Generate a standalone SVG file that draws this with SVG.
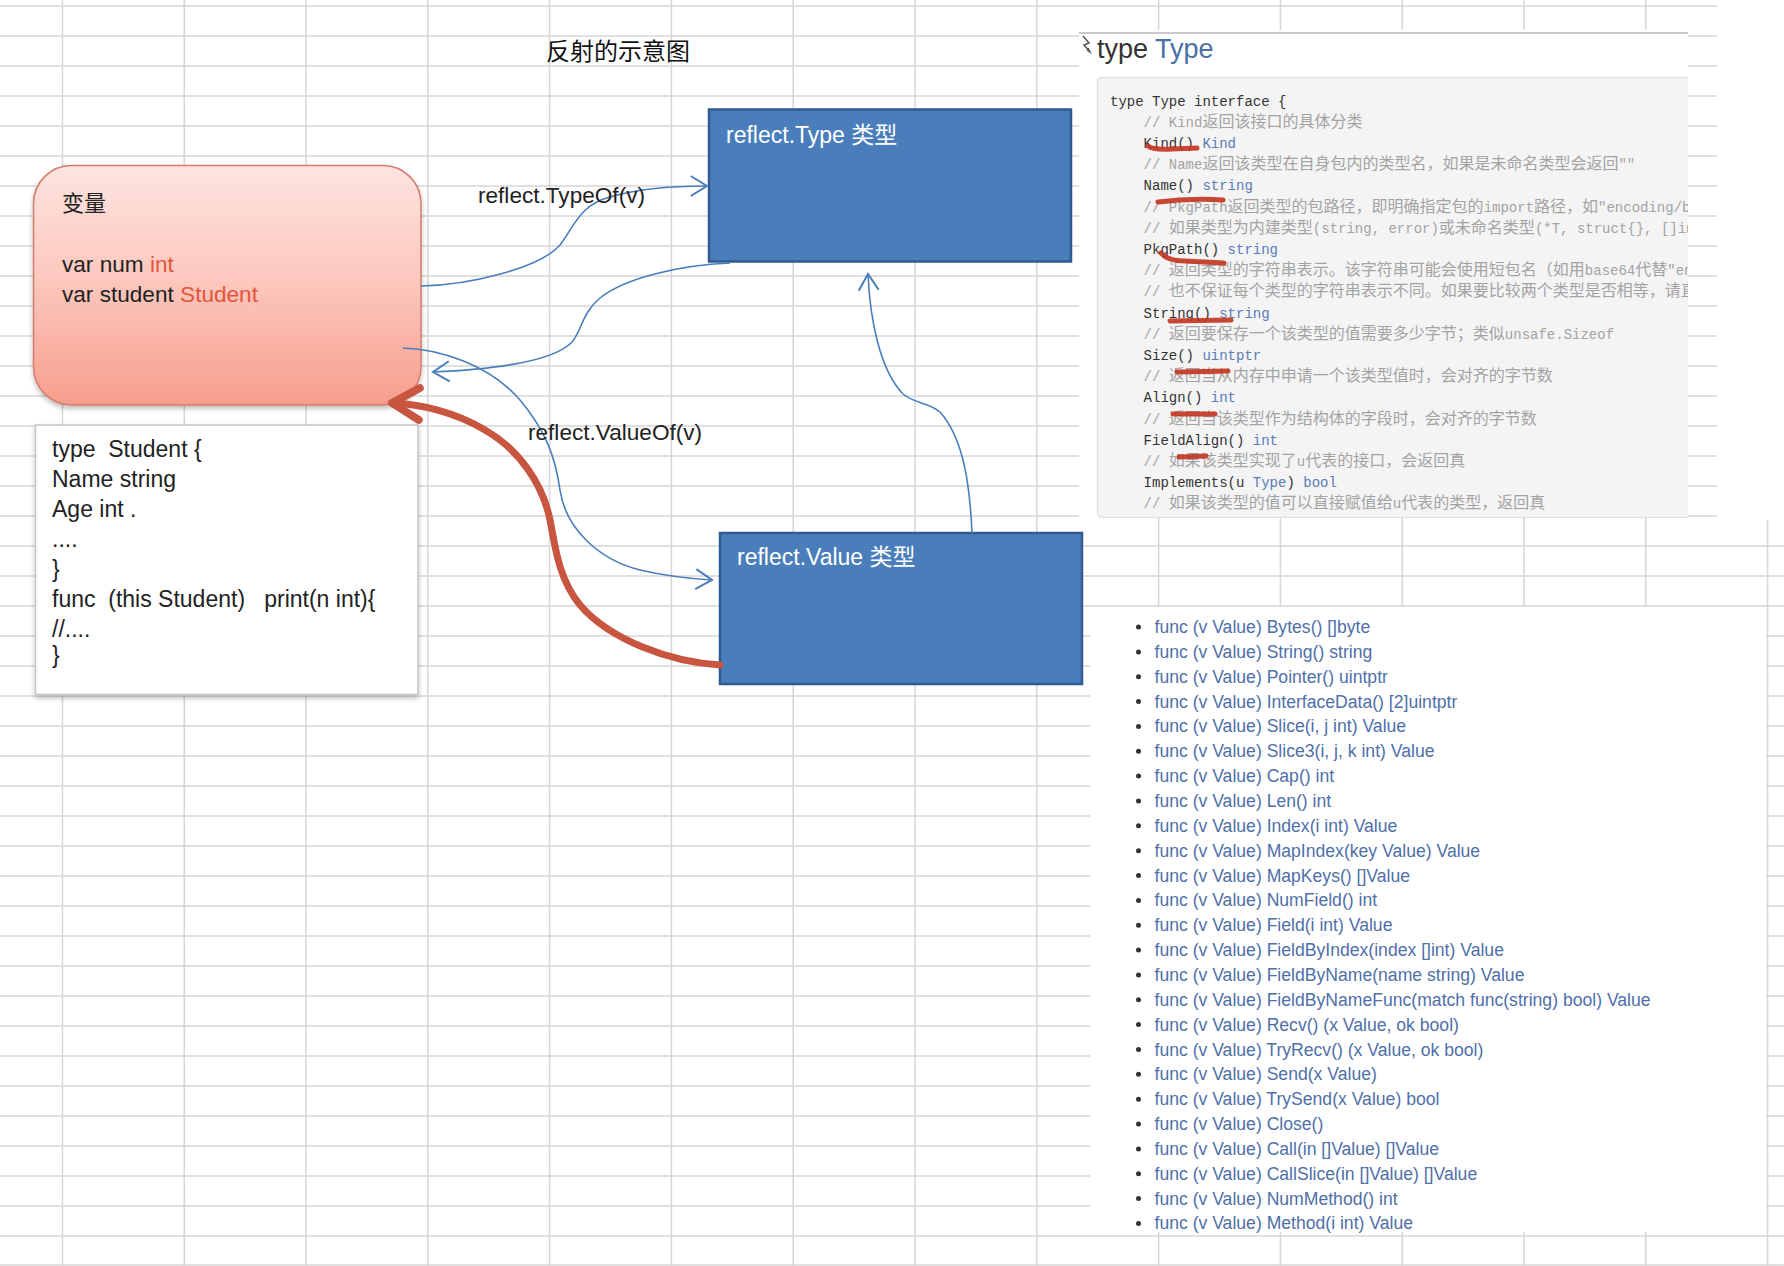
<svg xmlns="http://www.w3.org/2000/svg" width="1784" height="1266" viewBox="0 0 1784 1266">
<style>
.grid{stroke:#d6d6d6;stroke-width:1.5;fill:none}
.sans{font-family:"Liberation Sans",Arial,sans-serif}
.lbl{font-family:"Liberation Sans","Noto Sans CJK SC",sans-serif;font-size:22.6px;fill:#222}
.blk{font-family:"Liberation Sans","Noto Sans CJK SC",sans-serif;font-size:23px;fill:#222}
.wlbl{font-family:"Liberation Sans","Noto Sans CJK SC",sans-serif;font-size:23px;fill:#ffffff}
.red{fill:#e2553a}
.code{font-family:"Liberation Mono","Courier New",monospace;font-size:14px;fill:#333}
.cm{fill:#a3a3a3}
.ty{fill:#5a7bb8}
.cj{font-family:"Noto Sans CJK SC",sans-serif;font-size:16px}
.meth{font-family:"Liberation Sans",Arial,sans-serif;font-size:17.6px;fill:#4f6fa9}
.conn{fill:none;stroke:#4a7ebb;stroke-width:1.6}
.mark{fill:none;stroke:#c3341f;stroke-width:5;stroke-linecap:round;opacity:0.9}
</style>
<defs>
<linearGradient id="pink" x1="0" y1="0" x2="0" y2="1">
<stop offset="0" stop-color="#fde4e0"/>
<stop offset="0.5" stop-color="#fcc6bc"/>
<stop offset="1" stop-color="#f79e8d"/>
</linearGradient>
<filter id="shadow" x="-10%" y="-10%" width="120%" height="130%">
<feDropShadow dx="0" dy="3" stdDeviation="2.5" flood-color="#000" flood-opacity="0.25"/>
</filter>
<marker id="arrBlue" markerUnits="userSpaceOnUse" markerWidth="30" markerHeight="30" viewBox="-16 -12 20 24" refX="0" refY="0" orient="auto">
<path d="M-13,-8 L0,0 L-13,8" fill="none" stroke="#4a7ebb" stroke-width="1.6"/>
</marker>
<marker id="arrRed" markerUnits="userSpaceOnUse" markerWidth="50" markerHeight="50" viewBox="-32 -22 40 44" refX="0" refY="0" orient="auto">
<path d="M-24,-14 L0,0 L-24,14" fill="none" stroke="#c8553f" stroke-width="7" stroke-linecap="round" stroke-linejoin="round"/>
</marker>
<clipPath id="shotClip"><rect x="1079" y="28" width="609" height="490"/></clipPath>
</defs>

<rect x="0" y="0" width="1784" height="1266" fill="#ffffff"/>

<g id="grid">
<path class="grid" d="M0,6H1784M0,36H1784M0,66H1784M0,96H1784M0,126H1784M0,156H1784M0,186H1784M0,216H1784M0,246H1784M0,276H1784M0,306H1784M0,336H1784M0,366H1784M0,396H1784M0,426H1784M0,456H1784M0,486H1784M0,516H1784M0,546H1784M0,576H1784M0,606H1784M0,636H1784M0,666H1784M0,696H1784M0,726H1784M0,756H1784M0,786H1784M0,816H1784M0,846H1784M0,876H1784M0,906H1784M0,936H1784M0,966H1784M0,996H1784M0,1026H1784M0,1056H1784M0,1086H1784M0,1116H1784M0,1146H1784M0,1176H1784M0,1206H1784M0,1236H1784M0,1265H1784"/>
<path class="grid" d="M62.5,0V1266M184.3,0V1266M306,0V1266M427.8,0V1266M549.6,0V1266M671.4,0V1266M793.2,0V1266M915,0V1266M1036.8,0V1266M1158.6,0V1266M1280.4,0V1266M1402.2,0V1266M1524,0V1266M1645.8,0V1266M1767.6,0V1266"/>
<rect x="1717" y="0" width="67" height="520" fill="#ffffff"/>
<rect x="1079" y="30" width="609" height="488" fill="#ffffff"/>
<rect x="1090" y="607" width="676" height="625" fill="#ffffff"/>
</g>

<g id="title">
<text x="618" y="60" text-anchor="middle" font-family="Noto Sans CJK SC, sans-serif" font-size="24" fill="#111">反射的示意图</text>
</g>

<g id="node-var">
<rect x="33.5" y="165.5" width="387.5" height="239.5" rx="38" ry="38" fill="url(#pink)" stroke="#d47b6d" stroke-width="1.5" filter="url(#shadow)"/>
<text x="62" y="211" font-family="Noto Sans CJK SC, sans-serif" font-size="22" fill="#222">变量</text>
<text x="62" y="272" class="lbl">var num <tspan class="red">int</tspan></text>
<text x="62" y="302" class="lbl">var student <tspan class="red">Student</tspan></text>
</g>

<g id="node-student">
<rect x="35.5" y="425" width="382.5" height="269.5" fill="#ffffff" stroke="#c4c4c4" stroke-width="1.5" filter="url(#shadow)"/>
<g class="blk">
<text x="52" y="457" xml:space="preserve">type  Student {</text>
<text x="52" y="487">Name string</text>
<text x="52" y="517">Age int .</text>
<text x="52" y="547">....</text>
<text x="52" y="577">}</text>
<text x="52" y="607" xml:space="preserve">func  (this Student)   print(n int){</text>
<text x="52" y="637">//....</text>
<text x="52" y="663">}</text>
</g>
</g>

<g id="node-type">
<rect x="709" y="109.5" width="362" height="152" fill="#4a7ebb" stroke="#2f5b8f" stroke-width="2.5"/>
<text x="726" y="143" class="wlbl">reflect.Type 类型</text>
</g>

<g id="node-value">
<rect x="720" y="533" width="362" height="151" fill="#4a7ebb" stroke="#2f5b8f" stroke-width="2.5"/>
<text x="737" y="565" class="wlbl">reflect.Value 类型</text>
</g>

<g id="connectors">
<path class="conn" marker-end="url(#arrBlue)" d="M421,286 C470,285 540,268 560,245 C575,225 580,205 610,197 C640,188 680,186 707,186"/>
<path class="conn" marker-end="url(#arrBlue)" d="M730,263 C680,265 625,278 600,298 C582,313 582,330 572,342 C555,360 500,369 433,372"/>
<path class="conn" marker-end="url(#arrBlue)" d="M403,348 C440,349 490,365 520,400 C545,430 555,455 560,490 C566,530 600,560 640,570 C670,577 695,579 712,580"/>
<path class="conn" marker-end="url(#arrBlue)" d="M972,533 C970,490 965,440 940,412 C928,402 915,404 903,394 C880,370 870,320 868,274"/>
<path fill="none" stroke="#c8553f" stroke-width="7" stroke-linecap="round" marker-end="url(#arrRed)" d="M720,665 C670,662 610,640 580,605 C558,578 555,545 550,520 C543,485 520,450 485,430 C455,412 420,404 392,403"/>
</g>

<g id="connector-labels">
<text x="478" y="203" class="lbl">reflect.TypeOf(v)</text>
<text x="528" y="440" class="lbl">reflect.ValueOf(v)</text>
</g>

<g id="panel-type-doc">
<path d="M1079,33H1688" stroke="#c8c8c8" stroke-width="2"/>
<path d="M1083,36 L1089,43 L1084,45 L1090,52 M1087,50 L1090,52 L1088,48" fill="none" stroke="#555" stroke-width="1.5"/>
<text x="1097" y="58" class="sans" font-size="27" fill="#333">type <tspan fill="#4a6fa8">Type</tspan></text>
<g clip-path="url(#shotClip)">
<rect x="1097.5" y="77.5" width="620" height="440" rx="4" fill="#f4f4f4" stroke="#e0e0e0" stroke-width="1.5"/>
<g class="code">
<text x="1110" y="105.5">type Type interface {</text>
<text x="1143.6" y="126.7" class="cm">// Kind<tspan class="cj">返回该接口的具体分类</tspan></text>
<text x="1143.6" y="147.9">Kind() <tspan class="ty">Kind</tspan></text>
<text x="1143.6" y="169.1" class="cm">// Name<tspan class="cj">返回该类型在自身包内的类型名，如果是未命名类型会返回</tspan>""</text>
<text x="1143.6" y="190.3">Name() <tspan class="ty">string</tspan></text>
<text x="1143.6" y="211.5" class="cm">// PkgPath<tspan class="cj">返回类型的包路径，即明确指定包的</tspan>import<tspan class="cj">路径，如</tspan>"encoding/ba</text>
<text x="1143.6" y="232.7" class="cm">// <tspan class="cj">如果类型为内建类型</tspan>(string, error)<tspan class="cj">或未命名类型</tspan>(*T, struct{}, []in</text>
<text x="1143.6" y="253.9">PkgPath() <tspan class="ty">string</tspan></text>
<text x="1143.6" y="275.1" class="cm">// <tspan class="cj">返回类型的字符串表示。该字符串可能会使用短包名（如用</tspan>base64<tspan class="cj">代替</tspan>"enc</text>
<text x="1143.6" y="296.3" class="cm">// <tspan class="cj">也不保证每个类型的字符串表示不同。如果要比较两个类型是否相等，请直</tspan></text>
<text x="1143.6" y="317.5">String() <tspan class="ty">string</tspan></text>
<text x="1143.6" y="338.7" class="cm">// <tspan class="cj">返回要保存一个该类型的值需要多少字节；类似</tspan>unsafe.Sizeof</text>
<text x="1143.6" y="359.9">Size() <tspan class="ty">uintptr</tspan></text>
<text x="1143.6" y="381.1" class="cm">// <tspan class="cj">返回当从内存中申请一个该类型值时，会对齐的字节数</tspan></text>
<text x="1143.6" y="402.3">Align() <tspan class="ty">int</tspan></text>
<text x="1143.6" y="423.5" class="cm">// <tspan class="cj">返回当该类型作为结构体的字段时，会对齐的字节数</tspan></text>
<text x="1143.6" y="444.7">FieldAlign() <tspan class="ty">int</tspan></text>
<text x="1143.6" y="465.9" class="cm">// <tspan class="cj">如果该类型实现了</tspan>u<tspan class="cj">代表的接口，会返回真</tspan></text>
<text x="1143.6" y="487.1">Implements(u <tspan class="ty">Type</tspan>) <tspan class="ty">bool</tspan></text>
<text x="1143.6" y="508.3" class="cm">// <tspan class="cj">如果该类型的值可以直接赋值给</tspan>u<tspan class="cj">代表的类型，返回真</tspan></text>
</g>
<g id="red-marks">
<path class="mark" d="M1148,146 Q1152,150 1172,149 L1197,148"/>
<path class="mark" d="M1158,202 Q1190,198 1223,200"/>
<path class="mark" d="M1161,253 Q1168,261 1185,261 L1224,263"/>
<path class="mark" d="M1170,321 L1231,320"/>
<path class="mark" d="M1177,372 L1228,371" stroke-width="6"/>
<path class="mark" d="M1173,414 L1215,414" stroke-width="6"/>
<path class="mark" d="M1179,457 L1206,456"/>
</g>
</g>
</g>

<g id="panel-value-methods">
<g fill="#333">
<circle cx="1138.5" cy="627" r="2.5"/><circle cx="1138.5" cy="651.9" r="2.5"/><circle cx="1138.5" cy="676.7" r="2.5"/><circle cx="1138.5" cy="701.6" r="2.5"/><circle cx="1138.5" cy="726.4" r="2.5"/>
<circle cx="1138.5" cy="751.3" r="2.5"/><circle cx="1138.5" cy="776.1" r="2.5"/><circle cx="1138.5" cy="801" r="2.5"/><circle cx="1138.5" cy="825.8" r="2.5"/><circle cx="1138.5" cy="850.7" r="2.5"/>
<circle cx="1138.5" cy="875.5" r="2.5"/><circle cx="1138.5" cy="900.4" r="2.5"/><circle cx="1138.5" cy="925.2" r="2.5"/><circle cx="1138.5" cy="950.1" r="2.5"/><circle cx="1138.5" cy="974.9" r="2.5"/>
<circle cx="1138.5" cy="999.8" r="2.5"/><circle cx="1138.5" cy="1024.6" r="2.5"/><circle cx="1138.5" cy="1049.5" r="2.5"/><circle cx="1138.5" cy="1074.3" r="2.5"/><circle cx="1138.5" cy="1099.2" r="2.5"/>
<circle cx="1138.5" cy="1124" r="2.5"/><circle cx="1138.5" cy="1148.9" r="2.5"/><circle cx="1138.5" cy="1173.7" r="2.5"/><circle cx="1138.5" cy="1198.6" r="2.5"/><circle cx="1138.5" cy="1223.4" r="2.5"/>
</g>
<g class="meth">
<text x="1154.5" y="633">func (v Value) Bytes() []byte</text>
<text x="1154.5" y="657.9">func (v Value) String() string</text>
<text x="1154.5" y="682.7">func (v Value) Pointer() uintptr</text>
<text x="1154.5" y="707.6">func (v Value) InterfaceData() [2]uintptr</text>
<text x="1154.5" y="732.4">func (v Value) Slice(i, j int) Value</text>
<text x="1154.5" y="757.3">func (v Value) Slice3(i, j, k int) Value</text>
<text x="1154.5" y="782.1">func (v Value) Cap() int</text>
<text x="1154.5" y="807">func (v Value) Len() int</text>
<text x="1154.5" y="831.8">func (v Value) Index(i int) Value</text>
<text x="1154.5" y="856.7">func (v Value) MapIndex(key Value) Value</text>
<text x="1154.5" y="881.5">func (v Value) MapKeys() []Value</text>
<text x="1154.5" y="906.4">func (v Value) NumField() int</text>
<text x="1154.5" y="931.2">func (v Value) Field(i int) Value</text>
<text x="1154.5" y="956.1">func (v Value) FieldByIndex(index []int) Value</text>
<text x="1154.5" y="980.9">func (v Value) FieldByName(name string) Value</text>
<text x="1154.5" y="1005.8">func (v Value) FieldByNameFunc(match func(string) bool) Value</text>
<text x="1154.5" y="1030.6">func (v Value) Recv() (x Value, ok bool)</text>
<text x="1154.5" y="1055.5">func (v Value) TryRecv() (x Value, ok bool)</text>
<text x="1154.5" y="1080.3">func (v Value) Send(x Value)</text>
<text x="1154.5" y="1105.2">func (v Value) TrySend(x Value) bool</text>
<text x="1154.5" y="1130">func (v Value) Close()</text>
<text x="1154.5" y="1154.9">func (v Value) Call(in []Value) []Value</text>
<text x="1154.5" y="1179.7">func (v Value) CallSlice(in []Value) []Value</text>
<text x="1154.5" y="1204.6">func (v Value) NumMethod() int</text>
<text x="1154.5" y="1229.4">func (v Value) Method(i int) Value</text>
</g>
</g>
</svg>
